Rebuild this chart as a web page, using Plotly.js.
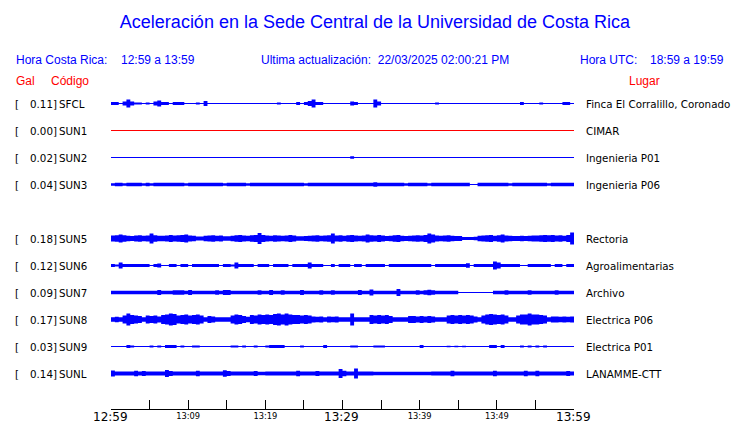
<!DOCTYPE html>
<html><head><meta charset="utf-8">
<script src="https://cdn.plot.ly/plotly-3.0.1.min.js"></script>
<style>html,body{margin:0;padding:0;background:#fff}#chart{width:740px;height:423px}</style>
</head><body><div id="chart"></div>
<script>
// ---- data ----
const codes  = ['SFCL','SUN1','SUN2','SUN3',null,'SUN5','SUN6','SUN7','SUN8','SUN9','SUNL'];
const galMax = ['0.11','0.00','0.02','0.04',null,'0.18','0.12','0.09','0.17','0.03','0.14'];
const places = ['Finca El Corralillo, Coronado','CIMAR','Ingenieria P01','Ingenieria P06',null,'Rectoria','Agroalimentarias','Archivo','Electrica P06','Electrica P01','LANAMME-CTT'];
const traceColors = ['#0000ff','#ff0000','#0000ff','#0000ff',null,'#0000ff','#0000ff','#0000ff','#0000ff','#0000ff','#0000ff'];

const bigTickVals = [0,30,60];
const bigTickText = ['12:59','13:29','13:59'];
const smallTickVals = [10,20,40,50];
const smallTickText = ['13:09','13:19','13:39','13:49'];
const minorTickVals = [0,5,10,15,20,25,30,35,40,45,50,55,60];

const binMinutes = 0.5; // envelope sampled every 30 s over 60 minutes

// envelope half-amplitudes (display units), 120 samples each
const ampSFCL = [
1.5,1.5,0,2,4,2,1,1,0,1,
0,2,3,1.5,1.5,0,1.5,1.5,1.5,0,
0,0,1,0,2.5,0,0,0,0,0,
0,0,0,0,0,0,0,0,0,0,
0,0,0,1,0,0,0,0,1.5,0,
1.5,2.5,4,1.5,1.5,0,0,0,0,0,
0,0,2,1.5,0,0,0,0,4,2,
0,0,0,0,0,0,0,0,0,0,
0,0,0,0,1,0,0,0,0,0,
0,0,0,0,0,0,0,0,0,0,
0,0,0,0,0,0,1.5,0,0,0,
0,1,0,0,0,0,0,1.5,1.5,0];
const ampSUN1 = [
0,0,0,0,0,0,0,0,0,0,0,0,0,0,0,0,0,0,0,0,
0,0,0,0,0,0,0,0,0,0,0,0,0,0,0,0,0,0,0,0,
0,0,0,0,0,0,0,0,0,0,0,0,0,0,0,0,0,0,0,0,
0,0,0,0,0,0,0,0,0,0,0,0,0,0,0,0,0,0,0,0,
0,0,0,0,0,0,0,0,0,0,0,0,0,0,0,0,0,0,0,0,
0,0,0,0,0,0,0,0,0,0,0,0,0,0,0,0,0,0,0,0];
const ampSUN2 = [
0,0,0,0,0,0,0,0,0,0,0,0,0,0,0,0,0,0,0,0,
0,0,0,0,0,0,0,0,0,0,0,0,0,0,0,0,0,0,0,0,
0,0,0,0,0,0,0,0,0,0,0,0,0,0,0,0,0,0,0,0,
0,0,1.2,0,0,0,0,0,0,0,0,0,0,0,0,0,0,0,0,0,
0,0,0,0,0,0,0,0,0,0,0,0,0,0,0,0,0,0,0,0,
0,0,0,0,0,0,0,0,0,0,0,0,0,0,0,0,0,0,0,0];
const ampSUN3 = [
1.3,1.8,1.8,1.3,1.8,1.8,1.8,1.8,1.3,1.8,
1.3,1.8,1.8,1.8,1.8,1.8,1.8,1.8,1.8,1.3,
1.8,1.8,1.8,1.8,1.8,1.8,1.8,1.8,1.8,1.3,
1.8,1.8,1.8,1.8,1.8,1.3,1.8,1.8,1.8,1.8,
1.8,1.8,1.8,1.8,1.8,1.8,1.8,1.8,1.8,1.8,
1.3,1.8,1.8,1.8,1.8,1.8,1.8,1.8,1.8,1.8,
1.8,1.8,1.8,1.8,1.8,1.8,1.8,1.8,2.3,1.8,
1.8,1.8,1.8,1.8,1.8,1.8,1.3,1.8,1.8,1.8,
1.8,1.8,1.3,1.8,1.8,1.8,1.8,1.8,1.8,1.8,
1.8,1.8,1.8,0.6,0.6,1.8,1.8,1.8,1.8,1.8,
1.8,1.8,1.8,1.3,1.8,1.8,1.8,1.8,1.8,1.8,
1.8,1.8,1.8,1.3,1.8,1.8,1.8,1.8,1.8,1.8];
const ampSUN5 = [
3,3.2,4,3.2,2.8,2.6,3,3.2,2.8,3,
5,3.2,2.8,2.8,3,3.4,3,3.2,3.5,4,
3,2.8,2,2,2.8,3,3.2,2.8,3,2.2,
2.2,2.8,3.2,3.5,3,2.8,3.2,3.5,5.5,3.5,
3,2.8,3.2,3,2.8,3,3.4,3,2.2,2.2,
2.4,2.8,3,3.2,2.8,3,3.2,5,3,3.2,
2.8,3.2,3.4,3,2.8,3,4,3.2,3,3.5,
3,2.6,2.8,3.2,3.5,2.8,2.4,2.8,3,3.2,
3,3.5,5,4,3,2.8,3,3.2,2.8,2.6,
2.4,1.5,1.5,1.5,1.8,2.8,3,3.2,3.5,2.8,
3.2,4,3,2.8,2.6,2.4,2.8,2.6,2.8,3,
3,3.2,3.5,3.2,3.5,3,3.2,2.8,3.5,6];
const ampSUN6 = [
1.5,1.1,3,1.5,1.5,1.5,1.5,1.5,1.5,1.5,
0.3,1.5,2,0.3,0.3,1.5,1.4,0.3,1.5,1.5,
0.3,1.5,1.5,1.5,1.5,1.5,1.5,1.5,0.3,1.5,
1.5,1.1,3,1.5,1.5,1.5,1.5,0.3,1.5,1.5,
1.5,0.3,1.5,1.5,1.5,1.5,0.3,1.5,1.5,1.5,
1.5,3,1.5,1.5,1.5,0.3,0.3,1.5,0.3,1.5,
1.5,1.5,0.3,1.5,1.5,0.3,1.5,1.5,1.5,1.5,
1.5,0.3,1.5,1.5,1.5,1.5,1.5,1.5,1.5,1.5,
1.5,1.5,1.5,0.3,1.5,1.5,1.5,1.5,1.5,1.5,
1.5,1.5,2.2,0.3,1.5,1.5,1.5,1.5,1.5,4,
3,1.5,1.5,1.5,1.5,1.5,0.3,0.3,1.5,1.5,
1.5,1.5,1.5,1.5,0.3,1.5,1.5,0.3,1.5,1.5];
const ampSUN7 = [
1.8,1.8,1.8,1.8,1.8,1.8,1.8,1.8,1.8,1.8,
1.8,1.8,2.6,1.8,1.8,1.8,2.2,2.2,2.2,1.8,
2.6,1.8,1.8,1.8,1.8,1.8,1.8,2.2,1.8,2.6,
2.6,1.8,1.8,1.8,1.8,1.8,1.8,1.8,2.2,1.8,
1.8,2.6,1.8,1.8,2.2,1.8,1.8,1.8,1.8,2.6,
1.8,1.8,1.8,1.8,2.2,1.8,1.8,2.2,1.8,1.8,
1.8,1.8,1.8,1.8,2.6,1.8,1.8,3,1.8,1.8,
1.8,1.8,1.8,1.8,3.5,1.8,1.8,1.8,1.8,2.2,
1.8,2.2,2.8,2.2,1.8,1.8,1.8,1.8,1.8,1.8,
0,0,0,0,0,0,0,0,0,1.8,
1.8,1.8,2.2,1.8,1.8,1.8,1.8,1.8,2.2,1.8,
1.8,1.8,1.8,1.8,1.8,2.2,1.8,1.8,1.8,1.8];
const ampSUN8 = [
2.3,2.8,2.3,4,6,4.5,4,3.5,2.3,4,
3.5,4,3,4.5,5,6,5.5,4,4.5,5,
4,4.5,5,4,2.3,3.5,3,2.3,2.3,2.3,
2.3,4,5,4.5,3.5,2.8,4.5,4,5,4.5,
5,4.5,5.5,6,5,6,5,4.5,4.5,4,
4.5,4,3,2.8,3,2.3,3,2.8,3,2.3,
2.3,2.3,6,2.3,2.3,2.3,2.3,4.5,4,4.5,
4,4.5,3.5,2.3,2.3,2.3,2.3,3.5,3.5,3,
3.5,3,3.5,3,2.3,2.3,2.3,4,4.5,4,
4.5,4,4.5,4,3,2.3,4,5,5.5,5,
4.5,5,4,2.3,2.3,4,5,5,6,5,
5,4.5,4,2.3,3,3,2.8,3,2.8,3];
const ampSUN9 = [
0,0,0,0,1.5,1,0,0,0,0,
1,0,1,0,1.5,1.5,1.5,0,1,0,
0,1,1,0,0,0,0,0,0,0,
0,1,1,0,1,0,0,1,0,0,
1,1.5,1.5,1.5,1.5,0,0,0,0,1,
0,0,0,0,0,1.5,0,0,0,0,
0,0,1,1,0,0,0,0,1,1,
1,0,0,0,0,0,0,0,0,0,
1.5,0,0,0,0,0,0,0.8,0,0.8,
0,0.8,0,0,0,0,0,0,1.5,1.5,
0,1.5,0,0,0,0,1,0,1,0,
1,0,1,0,0,0,0,0,0,0];
const ampSUNL = [
3,2.1,2.1,2.1,2.1,2.1,2.8,2.1,2.4,2.1,
2.1,2.1,2.1,2.1,3.5,2.4,2.1,2.1,2.1,2.1,
2.1,2.1,2.8,2.1,2.1,2.1,2.1,2.1,2.1,3.2,
2.6,2.1,2.1,2.1,2.1,2.1,2.1,2.6,1.8,1.8,
2.1,2.1,2.1,2.1,2.1,2.1,2.1,2.1,2.8,2.1,
2.1,2.1,2.1,2.4,2.1,2.1,2.1,2.1,2.1,4.5,
2.8,2.1,2.1,5,2.1,2.1,2.1,2.1,1.8,1.8,
1.8,1.8,1.8,1.8,1.8,1.8,1.8,1.8,1.8,1.8,
1.8,1.8,1.8,2.1,2.1,2.1,2.1,2.1,2.8,2.1,
2.1,2.1,2.1,2.1,2.1,2.1,2.1,2.1,2.1,2.8,
2.1,2.1,2.1,2.1,2.1,2.1,2.1,2.8,2.1,2.1,
2.8,2.1,2.1,2.1,2.1,2.1,2.1,2.1,2.6,2.1];
const amplitudes = [ampSFCL,ampSUN1,ampSUN2,ampSUN3,null,ampSUN5,ampSUN6,ampSUN7,ampSUN8,ampSUN9,ampSUNL];

// ---- drawing ----
const ROW_PX = 27;            // pixels between rows
const PLOT_L = 110.5, PLOT_R = 574.5, PLOT_T = 90, PLOT_B = 409;
const totalMinutes = 60;
function pxX(x){ return (x-PLOT_L)/(PLOT_R-PLOT_L); }
function pxY(y){ return (PLOT_B-y)/(PLOT_B-PLOT_T); }

const traces = [];
codes.forEach((code,row)=>{
  if(code===null) return;
  const amp = amplitudes[row];
  const col = traceColors[row];
  const xs=[], ys=[];
  for(let i=0;i<amp.length;i++){ const a=row-amp[i]/ROW_PX; xs.push(i*binMinutes,(i+1)*binMinutes); ys.push(a,a); }
  for(let i=amp.length-1;i>=0;i--){ const a=row+amp[i]/ROW_PX; xs.push((i+1)*binMinutes,i*binMinutes); ys.push(a,a); }
  traces.push({x:xs,y:ys,mode:'lines',fill:'toself',fillcolor:col,line:{width:0,color:col,simplify:false},hoverinfo:'skip',xaxis:'x',yaxis:'y'});
  traces.push({x:[0,totalMinutes],y:[row,row],mode:'lines',line:{width:1,color:col},hoverinfo:'skip',xaxis:'x',yaxis:'y'});
});
traces.push({x:[0],y:[null],mode:'markers',xaxis:'x2',yaxis:'y',hoverinfo:'skip'});

const labFont = {family:'DejaVu Sans',size:10.3,color:'#000'};
const hdrBlue = {family:'Liberation Sans',size:12,color:'#0000ff'};
const hdrRed  = {family:'Liberation Sans',size:12,color:'#ff0000'};
const bigTickFont = {family:'DejaVu Sans',size:12,color:'#000'};
const annotations = [];
function ann(text,x,y,xanchor,font,yref){
  annotations.push({text:text,x:pxX(x),xref:'paper',y:y,yref:yref,xanchor:xanchor,yanchor:'middle',showarrow:false,font:font,borderpad:0,borderwidth:0});
}
codes.forEach((code,row)=>{
  if(code===null) return;
  ann('[',14,row,'left',labFont,'y');
  ann(galMax[row]+']',56,row,'right',labFont,'y');
  ann(code,58,row,'left',labFont,'y');
  ann(places[row],587,row,'left',labFont,'y');
});
ann('Hora Costa Rica:',15,pxY(60.5),'left',hdrBlue,'paper');
ann('12:59 a 13:59',121,pxY(60.5),'left',hdrBlue,'paper');
ann('Ultima actualización:  22/03/2025 02:00:21 PM',260.5,pxY(60.5),'left',hdrBlue,'paper');
ann('Hora UTC:',581,pxY(60.5),'left',hdrBlue,'paper');
ann('18:59 a 19:59',651,pxY(60.5),'left',hdrBlue,'paper');
ann('Gal',15,pxY(80.5),'left',hdrRed,'paper');
ann('Código',50,pxY(80.5),'left',hdrRed,'paper');
ann('Lugar',630,pxY(80.5),'left',hdrRed,'paper');
// large hour labels placed on the time axis scale
bigTickVals.forEach((v,k)=>{
  annotations.push({text:bigTickText[k],x:v,xref:'x',xshift:-1,y:pxY(416.5),yref:'paper',xanchor:'center',yanchor:'middle',showarrow:false,font:bigTickFont,borderpad:0,borderwidth:0});
});

const layout = {
  width:740,height:423,
  margin:{l:PLOT_L,r:740-PLOT_R,t:PLOT_T,b:423-PLOT_B,pad:0},
  paper_bgcolor:'#fff',plot_bgcolor:'#fff',showlegend:false,
  title:{text:'Aceleración en la Sede Central de la Universidad de Costa Rica',
    font:{family:'Liberation Sans',size:18,color:'#0000ff'},
    x:375/740,xanchor:'center',xref:'container',y:1-22/423,yanchor:'middle',yref:'container'},
  xaxis:{range:[0,totalMinutes],tickmode:'array',tickvals:minorTickVals,showticklabels:false,
    ticks:'inside',ticklen:9,tickwidth:1,tickcolor:'#000',showline:true,linecolor:'#000',linewidth:1,
    showgrid:false,zeroline:false,fixedrange:true},
  xaxis2:{overlaying:'x',anchor:'y',side:'bottom',range:[0,totalMinutes],tickmode:'array',
    tickvals:smallTickVals,ticktext:smallTickText,ticks:'',showline:false,showgrid:false,zeroline:false,
    ticklabelstandoff:1,tickfont:{family:'DejaVu Sans',size:8.3,color:'#000'},fixedrange:true},
  yaxis:{range:[(PLOT_B-PLOT_T)/ROW_PX-0.5,-0.5],visible:false,fixedrange:true},
  annotations:annotations
};
Plotly.newPlot('chart',traces,layout,{staticPlot:true,displayModeBar:false});
</script></body></html>
